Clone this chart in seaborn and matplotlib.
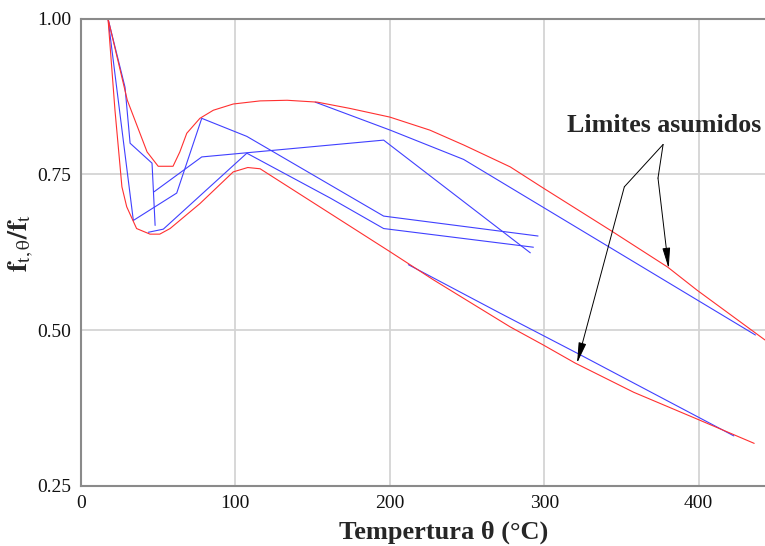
import numpy as np
import pandas as pd
import seaborn as sns
import matplotlib.pyplot as plt

# envelope curves (red) - temperature (C), relative strength
upper_T = [17.5, 30, 42.8, 50, 59.6, 64, 68.5, 77, 85.7, 98.6, 116, 133.5, 153, 174,
           200, 226, 248, 278, 299.4, 343, 380, 399, 443]
upper_f = [1.0, 0.869, 0.786, 0.763, 0.763, 0.786, 0.816, 0.840, 0.853, 0.863, 0.868, 0.869,
           0.866, 0.856, 0.842, 0.821, 0.797, 0.762, 0.728, 0.660, 0.601, 0.564, 0.484]
lower_T = [17.5, 22, 26.5, 29.6, 36, 44.7, 51, 57.7, 77, 98.6, 108, 116, 200, 228, 278,
           299.4, 320, 358, 400, 436]
lower_f = [1.0, 0.853, 0.730, 0.698, 0.663, 0.654, 0.654, 0.663, 0.703, 0.754, 0.761, 0.759,
           0.626, 0.581, 0.505, 0.476, 0.447, 0.400, 0.356, 0.318]

# test curves (blue)
b1_T = [17.5, 28.5, 31.8, 46, 48]
b1_f = [1.0, 0.890, 0.800, 0.768, 0.668]
b2_T = [17.5, 33.9, 62, 78.2, 107.4, 161.4, 196, 296]
b2_f = [1.0, 0.676, 0.720, 0.840, 0.811, 0.733, 0.683, 0.651]
b3_T = [43.6, 53.3, 107.4, 161.4, 196, 293]
b3_f = [0.657, 0.662, 0.784, 0.712, 0.663, 0.633]
b4_T = [47.3, 78.2, 196, 291]
b4_f = [0.722, 0.778, 0.805, 0.624]
b5_T = [151.7, 200.3, 247.8, 436.8]
b5_f = [0.866, 0.821, 0.774, 0.492]
b6_T = [212, 271.5, 321.2, 422.8]
b6_f = [0.605, 0.527, 0.463, 0.330]

x_ticks = [0, 100, 200, 300, 400]
y_ticks = [0.25, 0.50, 0.75, 1.00]

sns.set_theme(style="white")
plt.rcParams['font.family'] = ['Liberation Serif', 'DejaVu Serif']
plt.rcParams['mathtext.fontset'] = 'stix'

fig = plt.figure(figsize=(7.65, 5.46), dpi=100)
ax = fig.add_axes([81 / 765, 60.3 / 546, 684 / 765, 467 / 546])

blue = "#4040ff"
red = "#ff3030"
for T, f in [(b1_T, b1_f), (b2_T, b2_f), (b3_T, b3_f), (b4_T, b4_f), (b5_T, b5_f), (b6_T, b6_f)]:
    sns.lineplot(x=T, y=f, sort=False, estimator=None, color=blue, lw=0.8, ax=ax)
for T, f in [(upper_T, upper_f), (lower_T, lower_f)]:
    sns.lineplot(x=T, y=f, sort=False, estimator=None, color=red, lw=0.8, ax=ax)

ax.set_xlim(0, 443)
ax.set_ylim(0.25, 1.0)
ax.set_xticks(x_ticks)
ax.set_yticks(y_ticks)
ax.set_yticklabels([f"{v:.2f}" for v in y_ticks])
ax.tick_params(length=0, labelsize=14, pad=7, colors="#111111")
ax.grid(True, color="#d4d4d4", lw=1.3)
ax.set_axisbelow(True)
for s in ["left", "bottom", "top"]:
    ax.spines[s].set_color("#8a8a8a")
    ax.spines[s].set_linewidth(1.5)
ax.spines["right"].set_visible(False)

ax.set_xlabel("Tempertura θ (°C)", fontsize=19, fontweight="bold")
ax.xaxis.set_label_coords((444 - 81) / 684, -0.075)
ax.set_ylabel(r"$\mathbf{f}_{\mathrm{t,\theta}}\mathbf{/f}_{\mathrm{t}}$", fontsize=20)
ax.yaxis.set_label_coords(-0.066, 0.52)

# annotation
ax.text(315, 0.81, "Limites asumidos", fontsize=18.7, fontweight="bold",
        ha="left", va="bottom")
ax.plot([377, 351.9], [0.798, 0.730], color="black", lw=0.7)
ax.plot([377, 373.7], [0.798, 0.744], color="black", lw=0.7)
arrow = dict(arrowstyle="-|>,head_length=0.9,head_width=0.17", color="black", lw=0.7,
             shrinkA=0, shrinkB=0, mutation_scale=14)
ax.annotate("", xy=(321.3, 0.447), xytext=(351.9, 0.730), arrowprops=arrow)
ax.annotate("", xy=(380.6, 0.599), xytext=(373.7, 0.744), arrowprops=arrow)

fig.savefig("out.png", dpi=100)
